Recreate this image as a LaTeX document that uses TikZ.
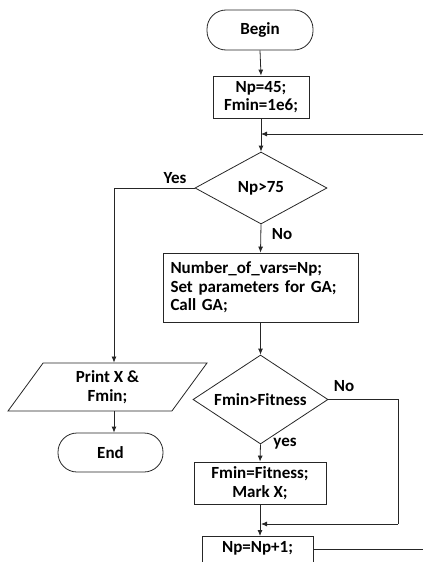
\documentclass[tikz,border=0pt]{standalone}
\usepackage{fontspec}
\setmainfont{Carlito}
\usetikzlibrary{shapes.geometric,arrows.meta}
\begin{document}
\begin{tikzpicture}[x=1pt,y=-1pt,
  every node/.style={font=\fontsize{17}{18.5}\selectfont\bfseries},
  ln/.style={line width=0.8pt,draw=black!85},
  arr/.style={ln,-{Latex[length=6pt,width=5pt]}},
  box/.style={ln,draw,rectangle,inner sep=0pt,align=center},
  term/.style={ln,draw,rectangle,rounded corners=19pt,inner sep=0pt},
  dec/.style={ln,draw,diamond,inner sep=0pt},
  io/.style={ln,draw,trapezium,trapezium left angle=43,trapezium right angle=137,trapezium stretches body,inner sep=0pt,align=center},
  lbl/.style={inner sep=0pt}]
\useasboundingbox (0,0) rectangle (423,562);
\clip (0,0) rectangle (423,562);
\node[term,minimum width=106pt,minimum height=40pt] (begin) at (260,30) {Begin};
\node[box,minimum width=96pt,minimum height=42pt] (np45) at (261,97) {Np=45;\\Fmin=1e6;};
\node[dec,aspect=1.83,minimum width=132pt,minimum height=72pt] (d1) at (261,188) {Np>75};
\node[box,minimum width=195pt,minimum height=69pt,text width=180pt,align=left] (ga) at (260.5,287.5) {Number\_of\_vars=Np;\\Set parameters for GA;\\Call GA;};
\node[dec,aspect=1.52,minimum width=135pt,minimum height=89pt] (d2) at (260.5,399.5) {Fmin>Fitness};
\node[box,minimum width=132pt,minimum height=42pt] (fit) at (260,483) {Fmin=Fitness;\\Mark X;};
\node[box,anchor=north,minimum width=111pt,text height=13pt,text depth=10pt,inner ysep=3pt] (npinc) at (257.5,536) {Np=Np+1;};
\node[io,minimum width=199pt,minimum height=48pt] (print) at (107.5,387) {Print X \&\\Fmin;};
\node[term,minimum width=105pt,minimum height=39pt] (end) at (110.5,452.5) {End};

\node[lbl] (yes1) at (175,178) {Yes};
\node[lbl] (no1) at (282,234) {No};
\node[lbl] (no2) at (344,386) {No};
\node[lbl] (yes2) at (285,444) {yes};

\coordinate (loopR) at (423,134);
\coordinate (loopJ) at (261,134);
\coordinate (yesC) at (114,188);
\coordinate (noC) at (398,399.5);
\coordinate (noB) at (398,524);
\coordinate (noJ) at (261,524);
\coordinate (outR) at (423,549);

\draw[arr] (begin.south) -- (np45.north);
\draw[arr] (np45.south) -- (d1.north);
\draw[arr] (loopR) -- (loopJ);
\draw[ln] (d1.west) -- (yesC);
\draw[arr] (yesC) -- (yesC |- print.north);
\draw[arr] (yesC |- print.south) -- (yesC |- end.north);
\draw[arr] (d1.south) -- (ga.north);
\draw[arr] (ga.south) -- (d2.north);
\draw[arr] (d2.south) -- (fit.north);
\draw[ln] (d2.east) -- (noC) -- (noB);
\draw[arr] (noB) -- (noJ);
\draw[arr] (fit.south) -- (fit.south |- npinc.north);
\draw[ln] (npinc.east |- outR) -- (outR);
\end{tikzpicture}
\end{document}
